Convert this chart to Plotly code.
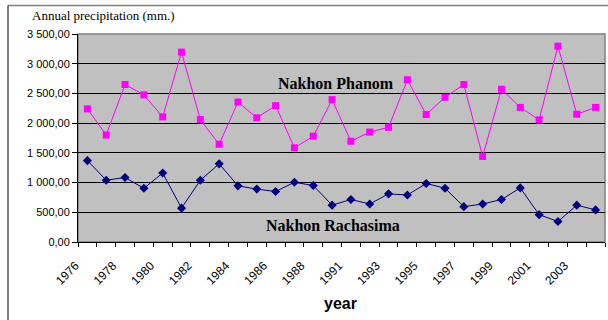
import plotly.graph_objects as go

# Years of record (one year between 1988 and 1991 is absent from the series)
years = ["1976", "1977", "1978", "1979", "1980", "1981", "1982", "1983", "1984",
         "1985", "1986", "1987", "1988", "1990", "1991", "1992", "1993", "1994",
         "1995", "1996", "1997", "1998", "1999", "2000", "2001", "2002", "2003",
         "2004"]

# Annual precipitation (mm.)
nakhon_phanom = [2240, 1800, 2650, 2475, 2105, 3195, 2060, 1645, 2355, 2090,
                 2295, 1585, 1780, 2395, 1695, 1850, 1930, 2730, 2145, 2435,
                 2650, 1440, 2570, 2265, 2055, 3295, 2150, 2265]
nakhon_rachasima = [1370, 1040, 1085, 905, 1160, 570, 1040, 1315, 945, 890,
                    850, 1005, 950, 620, 715, 640, 810, 790, 985, 905,
                    595, 640, 715, 910, 460, 345, 620, 540]

# Only every second year carries a label
tick_text = [y if i % 2 == 0 else "" for i, y in enumerate(years)]

fig = go.Figure()

fig.add_trace(go.Scatter(
    x=years, y=nakhon_phanom, mode="lines+markers", name="Nakhon Phanom",
    line=dict(color="#FF00FF", width=1),
    marker=dict(symbol="square", size=7, color="#FF00FF"),
))
fig.add_trace(go.Scatter(
    x=years, y=nakhon_rachasima, mode="lines+markers", name="Nakhon Rachasima",
    line=dict(color="#000080", width=1),
    marker=dict(symbol="diamond", size=7, color="#000080"),
))

W, H = 608, 320
ML, MR, MT, MB = 78, 3, 34, 78
pw, ph = W - ML - MR, H - MT - MB


def px_x(p):
    return (p - ML) / pw


def px_y(p):
    return (H - MB - p) / ph


fig.update_layout(
    width=W, height=H,
    margin=dict(l=ML, r=MR, t=MT, b=MB, pad=0),
    paper_bgcolor="white",
    plot_bgcolor="#C0C0C0",
    showlegend=False,
    separators=", ",
    font=dict(family="Liberation Sans, Arial, sans-serif", color="black"),
    xaxis=dict(
        type="category",
        tickmode="array", tickvals=years, ticktext=tick_text,
        tickson="boundaries", ticks="outside", ticklen=4, tickcolor="black",
        tickangle=-45, tickfont=dict(size=12),
        ticklabelstandoff=11, ticklabelshift=-12,
        showgrid=False, showline=True, linecolor="black", linewidth=1,
        range=[-0.5, len(years) - 0.5], zeroline=False,
    ),
    yaxis=dict(
        range=[0, 3500], dtick=500, tick0=0,
        tickformat=",.2f", separatethousands=True,
        ticks="outside", ticklen=5, tickcolor="black", tickfont=dict(size=11),
        showgrid=True, gridcolor="black", gridwidth=1,
        showline=True, linecolor="black", linewidth=1, zeroline=False,
    ),
    shapes=[
        # plot area frame (top / right)
        dict(type="rect", xref="paper", yref="paper", x0=0, x1=1, y0=0, y1=1,
             line=dict(color="#808080", width=1.5), layer="between"),
        # chart frame
        dict(type="line", xref="paper", yref="paper",
             x0=px_x(8), x1=px_x(640), y0=px_y(5.5), y1=px_y(5.5),
             line=dict(color="#808080", width=1.5)),
        dict(type="line", xref="paper", yref="paper",
             x0=px_x(8), x1=px_x(8), y0=px_y(5.5), y1=px_y(340),
             line=dict(color="#505050", width=1.5)),
    ],
    annotations=[
        dict(text="Annual precipitation (mm.)", xref="paper", yref="paper",
             x=px_x(30), y=px_y(15), xanchor="left", yanchor="middle",
             showarrow=False,
             font=dict(family="Liberation Serif, Times New Roman, serif",
                       size=13, color="black")),
        dict(text="<b>Nakhon Phanom</b>", xref="paper", yref="paper",
             x=px_x(335.5), y=px_y(83), xanchor="center", yanchor="middle",
             showarrow=False,
             font=dict(family="Liberation Serif, Times New Roman, serif",
                       size=16, color="black")),
        dict(text="<b>Nakhon Rachasima</b>", xref="paper", yref="paper",
             x=px_x(333), y=px_y(225), xanchor="center", yanchor="middle",
             showarrow=False,
             font=dict(family="Liberation Serif, Times New Roman, serif",
                       size=16, color="black")),
        dict(text="<b>year</b>", xref="paper", yref="paper",
             x=px_x(340), y=px_y(303), xanchor="center", yanchor="middle",
             showarrow=False,
             font=dict(family="Liberation Sans, Arial, sans-serif",
                       size=16, color="black")),
    ],
)

fig.write_html("out.html")
